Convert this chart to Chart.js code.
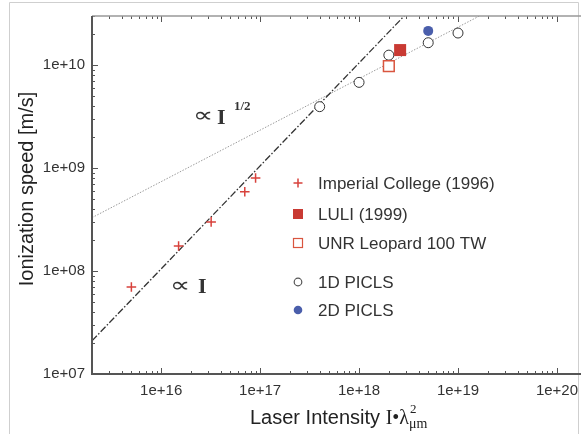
<!DOCTYPE html>
<html>
<head>
<meta charset="utf-8">
<script src="https://cdn.jsdelivr.net/npm/chart.js@4.4.1/dist/chart.umd.min.js"></script>
<style>
  html, body { margin:0; padding:0; width:581px; height:434px; overflow:hidden; background:#fff; }
  #wrap { position:relative; width:665px; height:434px; }
</style>
</head>
<body>
<div id="wrap"><canvas id="speed-chart"></canvas></div>
<script>
/* ---- values ---- */
const imperialX = [5e15, 1.5e16, 3.2e16, 7e16, 9e16];
const imperialY = [7e7, 1.75e8, 3e8, 5.9e8, 8e8];
const luliX = [2.6e18];
const luliY = [1.4e10];
const unrX = [2e18];
const unrY = [9.8e9];
const pic1dX = [4e17, 1e18, 2e18, 5e18, 1e19];
const pic1dY = [3.95e9, 6.8e9, 1.25e10, 1.65e10, 2.05e10];
const pic2dX = [5e18];
const pic2dY = [2.15e10];
// guide lines (end points)
const linFitX = [2e15, 1e20];
const linFitY = [2.1e7, 1.05e12];
const sqrtFitX = [2e15, 1e20];
const sqrtFitY = [3.3e8, 7.4e10];
// axes
const xTickValues = [1e16, 1e17, 1e18, 1e19, 1e20];
const xTickLabels = ['1e+16', '1e+17', '1e+18', '1e+19', '1e+20'];
const yTickValues = [1e7, 1e8, 1e9, 1e10];
const yTickLabels = ['1e+07', '1e+08', '1e+09', '1e+10'];

const RED = '#d8423c', RED_DARK = '#c93a33', RED_OPEN = '#d9553f', BLUE = '#4a5eab', INK = '#333';
const SANS = '"Liberation Sans", Arial, Helvetica, sans-serif';
const SERIF = '"Liberation Serif", "Times New Roman", serif';

const pts = (xs, ys) => xs.map((x, i) => ({ x, y: ys[i] }));

// wide "proportional to" sign
function propSign(ctx, x, y) {
  ctx.save();
  ctx.translate(x, y); ctx.scale(1.35, 1);
  ctx.font = '21px "DejaVu Sans", sans-serif';
  ctx.fillText('\u221D', 0, 0);
  ctx.restore();
}

/* ---- axes box, ticks, labels, legend ---- */
const decor = {
  id: 'decor',
  afterDraw(chart) {
    const { ctx, chartArea: a, scales: { x, y } } = chart;
    ctx.save();

    // image frame
    ctx.strokeStyle = '#cfcfcf'; ctx.lineWidth = 1;
    ctx.beginPath();
    ctx.moveTo(9.5, 434); ctx.lineTo(9.5, 2.5); ctx.lineTo(578.5, 2.5); ctx.lineTo(578.5, 434);
    ctx.stroke();

    // minor/major ticks pointing inward
    ctx.strokeStyle = '#555'; ctx.lineWidth = 1;
    ctx.beginPath();
    for (let e = 15; e <= 21; e++) {
      for (let m = 1; m <= 9; m++) {
        const v = m * Math.pow(10, e);
        if (v < x.min || v > x.max) continue;
        const px = Math.round(x.getPixelForValue(v)) + 0.5;
        const len = m === 1 ? 6 : 3;
        ctx.moveTo(px, a.bottom); ctx.lineTo(px, a.bottom - len);
        ctx.moveTo(px, a.top); ctx.lineTo(px, a.top + len);
      }
    }
    for (let e = 7; e <= 10; e++) {
      for (let m = 1; m <= 9; m++) {
        const v = m * Math.pow(10, e);
        if (v < y.min || v > y.max) continue;
        const py = Math.round(y.getPixelForValue(v)) + 0.5;
        const len = m === 1 ? 6 : 3;
        ctx.moveTo(a.left, py); ctx.lineTo(a.left + len, py);
      }
    }
    ctx.stroke();

    // axis lines
    ctx.strokeStyle = '#999'; ctx.lineWidth = 1.5;
    ctx.beginPath(); ctx.moveTo(a.left, a.top); ctx.lineTo(a.right, a.top); ctx.stroke();
    ctx.strokeStyle = '#555'; ctx.lineWidth = 2;
    ctx.beginPath();
    ctx.moveTo(a.left, a.top); ctx.lineTo(a.left, a.bottom); ctx.lineTo(a.right, a.bottom);
    ctx.stroke();

    // proportionality labels
    ctx.fillStyle = INK; ctx.textBaseline = 'alphabetic'; ctx.textAlign = 'left';
    propSign(ctx, 193, 122);
    propSign(ctx, 170, 292);
    ctx.font = 'bold 22px ' + SERIF;
    ctx.fillText('I', 217, 124);
    ctx.fillText('I', 198, 293);
    ctx.font = 'bold 13px ' + SERIF;
    ctx.fillText('1/2', 234, 110);

    // legend
    const rows = [
      { y: 183, text: 'Imperial College (1996)', mark: 'cross' },
      { y: 214, text: 'LULI (1999)', mark: 'fsquare' },
      { y: 243, text: 'UNR Leopard 100 TW', mark: 'osquare' },
      { y: 282, text: '1D PICLS', mark: 'ocircle' },
      { y: 310, text: '2D PICLS', mark: 'fcircle' },
    ];
    const mx = 298;
    rows.forEach(r => {
      ctx.lineWidth = 1.5;
      if (r.mark === 'cross') {
        ctx.strokeStyle = RED; ctx.beginPath();
        ctx.moveTo(mx - 4.5, r.y); ctx.lineTo(mx + 4.5, r.y);
        ctx.moveTo(mx, r.y - 4.5); ctx.lineTo(mx, r.y + 4.5); ctx.stroke();
      } else if (r.mark === 'fsquare') {
        ctx.fillStyle = RED_DARK; ctx.fillRect(mx - 5, r.y - 5, 10, 10);
      } else if (r.mark === 'osquare') {
        ctx.strokeStyle = RED_OPEN; ctx.lineWidth = 1.2; ctx.strokeRect(mx - 4.5, r.y - 4.5, 9, 9);
      } else if (r.mark === 'ocircle') {
        ctx.strokeStyle = '#555'; ctx.lineWidth = 1.2; ctx.beginPath(); ctx.arc(mx, r.y, 3.8, 0, Math.PI * 2); ctx.stroke();
      } else {
        ctx.fillStyle = BLUE; ctx.beginPath(); ctx.arc(mx, r.y, 4.3, 0, Math.PI * 2); ctx.fill();
      }
      ctx.fillStyle = INK; ctx.font = '17px ' + SANS; ctx.textBaseline = 'middle';
      ctx.fillText(r.text, 318, r.y + 1);
    });

    // y title
    ctx.save();
    ctx.translate(33, 189); ctx.rotate(-Math.PI / 2);
    ctx.textAlign = 'center'; ctx.textBaseline = 'alphabetic';
    ctx.font = '20px ' + SANS; ctx.fillStyle = '#222';
    ctx.fillText('Ionization speed [m/s]', 0, 0);
    ctx.restore();

    // x title: Laser Intensity I·λ²µm
    ctx.textBaseline = 'alphabetic'; ctx.textAlign = 'left'; ctx.fillStyle = '#222';
    let tx = 250; const by = 424;
    ctx.font = '20px ' + SANS;
    const t1 = 'Laser Intensity ';
    ctx.fillText(t1, tx, by); tx += ctx.measureText(t1).width;
    ctx.font = '20px ' + SERIF;
    ctx.fillText('I\u2022\u03BB', tx, by); tx += ctx.measureText('I\u2022\u03BB').width;
    ctx.font = '13px ' + SERIF;
    ctx.fillText('2', tx + 1, by - 11);
    ctx.font = '14px ' + SERIF;
    ctx.fillText('\u03BCm', tx, by + 4);

    ctx.restore();
  }
};

new Chart(document.getElementById('speed-chart'), {
  type: 'scatter',
  data: {
    datasets: [
      { label: 'Imperial College (1996)', data: pts(imperialX, imperialY), pointStyle: 'cross',
        pointRadius: 4.8, borderColor: RED, backgroundColor: RED, borderWidth: 1.5 },
      { label: 'LULI (1999)', data: pts(luliX, luliY), pointStyle: 'rect',
        pointRadius: 8.5, backgroundColor: RED_DARK, borderColor: RED_DARK, borderWidth: 0 },
      { label: 'UNR Leopard 100 TW', data: pts(unrX, unrY), pointStyle: 'rect',
        pointRadius: 7.6, backgroundColor: '#fff', borderColor: RED_OPEN, borderWidth: 1.5 },
      { label: '1D PICLS', data: pts(pic1dX, pic1dY), pointStyle: 'circle',
        pointRadius: 5, backgroundColor: '#fff', borderColor: '#333', borderWidth: 1 },
      { label: '2D PICLS', data: pts(pic2dX, pic2dY), pointStyle: 'circle',
        pointRadius: 5, backgroundColor: BLUE, borderColor: BLUE, borderWidth: 0 },
      { label: 'prop I', data: pts(linFitX, linFitY), showLine: true, pointRadius: 0,
        borderColor: '#333', borderWidth: 1.3, borderDash: [7, 2, 1.5, 2], order: 10 },
      { label: 'prop sqrt I', data: pts(sqrtFitX, sqrtFitY), showLine: true, pointRadius: 0,
        borderColor: '#9a9a9a', borderWidth: 1, borderDash: [1.5, 1.5], order: 10 },
    ],
  },
  options: {
    responsive: true, maintainAspectRatio: false, animation: false,
    layout: { padding: { top: 5, right: 5, left: 0, bottom: 0 } },
    plugins: { legend: { display: false }, tooltip: { enabled: false } },
    scales: {
      x: {
        type: 'logarithmic', min: 2e15, max: 1e21,
        grid: { display: false, drawTicks: false }, border: { display: false },
        afterBuildTicks: s => { s.ticks = xTickValues.map(v => ({ value: v })); },
        afterFit: s => { s.height = 60; },
        ticks: { autoSkip: false, maxRotation: 0, padding: 8, color: INK,
          font: { size: 15, family: SANS }, callback: (v, i) => xTickLabels[i] },
      },
      y: {
        type: 'logarithmic', min: 1e7, max: 3e10,
        grid: { display: false, drawTicks: false }, border: { display: false },
        afterBuildTicks: s => { s.ticks = yTickValues.map(v => ({ value: v })); },
        afterFit: s => { s.width = 92; },
        ticks: { autoSkip: false, padding: 7, color: INK,
          font: { size: 15, family: SANS }, callback: (v, i) => yTickLabels[i] },
      },
    },
  },
  plugins: [decor],
});
</script>
</body>
</html>
